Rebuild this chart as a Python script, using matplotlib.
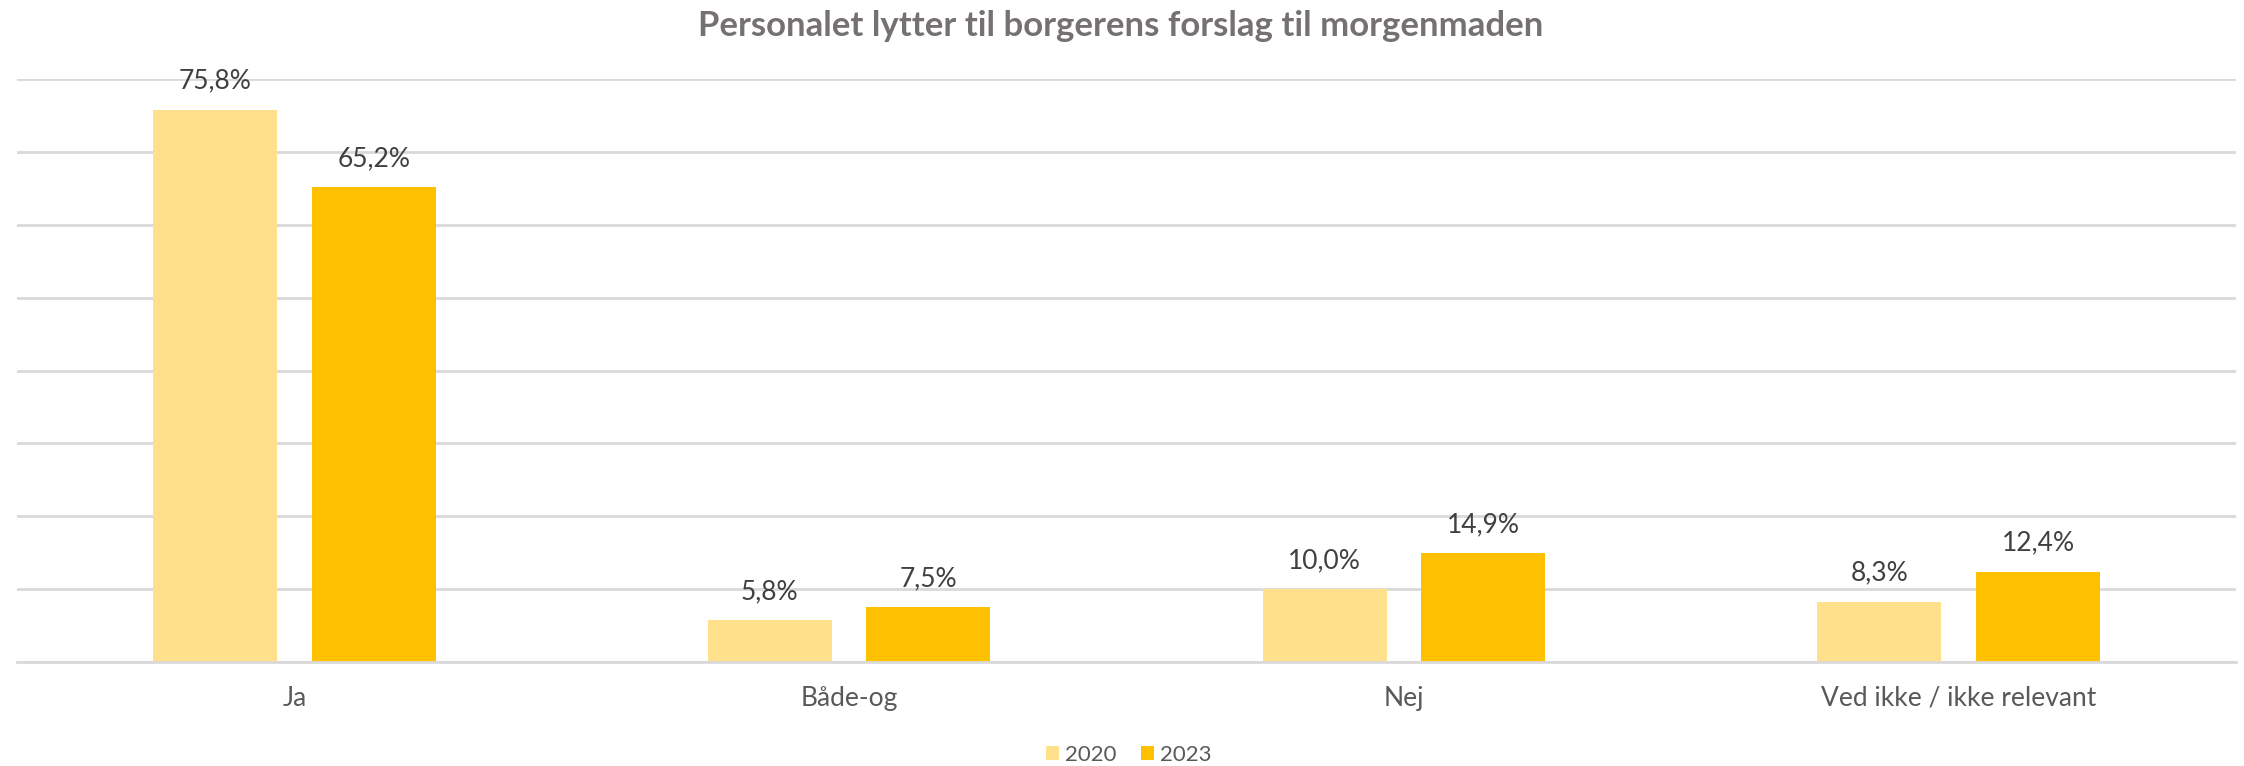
"""
Grouped bar chart: staff listen to residents' breakfast suggestions, 2020 vs 2023.
"""

import matplotlib.pyplot as plt
import numpy as np

categories = ["Ja", "Både-og", "Nej", "Ved ikke / ikke relevant"]
years = ["2020", "2023"]
values_2020 = [75.8, 5.8, 10.0, 8.3]
values_2023 = [65.2, 7.5, 14.9, 12.4]
colors = ["#FFE08B", "#FFC000"]
title = "Personalet lytter til borgerens forslag til morgenmaden"

plt.rcParams["font.family"] = ["Lato", "DejaVu Sans"]

fig = plt.figure(figsize=(22.44, 7.66), dpi=100)
ax = fig.add_axes([17 / 2244, 1 - 662 / 766, 2219 / 2244, 583 / 766])

x = np.arange(len(categories))
width = 0.2236
offset = 0.143

for i, (vals, year) in enumerate(zip([values_2020, values_2023], years)):
    pos = x + (offset if i else -offset)
    bars = ax.bar(pos, vals, width=width, color=colors[i], label=year, zorder=3)
    for b, v in zip(bars, vals):
        ax.annotate(
            f"{v:.1f}%".replace(".", ","),
            (b.get_x() + b.get_width() / 2, v),
            xytext=(0, 15),
            textcoords="offset points",
            ha="center",
            va="baseline",
            fontsize=19,
            color="#404040",
        )

ax.set_xlim(-0.5, len(categories) - 0.5)
ax.set_ylim(0, 80)
ax.set_yticks(np.arange(0, 81, 10))
ax.yaxis.grid(True, color="#D9D9D9", linewidth=2, zorder=0)
ax.tick_params(axis="y", left=False, labelleft=False)
ax.set_xticks(x)
ax.set_xticklabels(categories, fontsize=19, color="#595959")
ax.tick_params(axis="x", length=0, pad=17)
for side in ["top", "right", "left"]:
    ax.spines[side].set_visible(False)
ax.spines["bottom"].set_color("#D9D9D9")
ax.spines["bottom"].set_linewidth(2)
ax.spines["bottom"].set_zorder(4)

fig.suptitle(title, x=0.4995, y=1 - 26 / 766, va="center",
             fontsize=25, fontweight="bold", color="#767171")

fig.legend(
    loc="center",
    bbox_to_anchor=(0.503, 1 - 755 / 766),
    ncol=2,
    frameon=False,
    fontsize=16,
    labelcolor="#595959",
    handlelength=0.6,
    handleheight=0.6,
    handletextpad=0.25,
    columnspacing=1.1,
)

fig.savefig("out.png", dpi=100)
